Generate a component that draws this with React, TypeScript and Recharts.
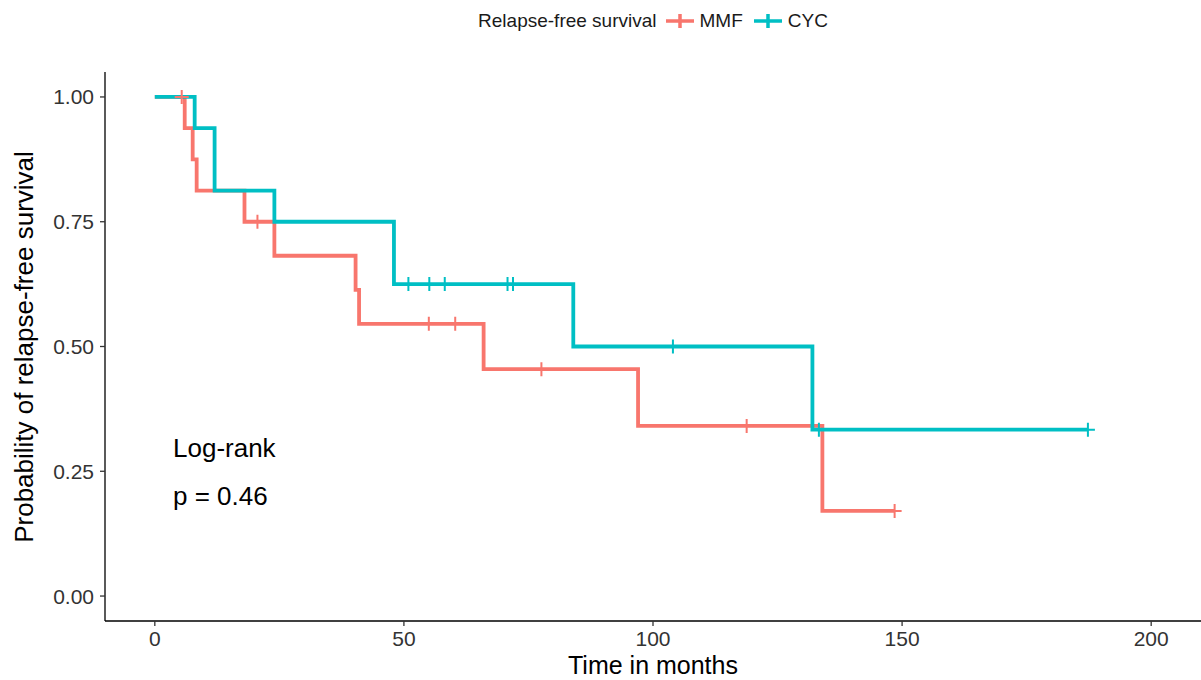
import React from 'react';
import { ComposedChart, Line, Scatter, XAxis, YAxis } from 'recharts';

// MMF Kaplan-Meier step curve
const mmfTimes = [0, 6, 7.6, 8.4, 18, 24, 40.3, 41, 66, 97, 134, 148.5];
const mmfSurv = [1, 0.9375, 0.875, 0.8125, 0.75, 0.6818, 0.6136, 0.5455, 0.4545, 0.3409, 0.1705, 0.1705];
const mmfCensorTimes = [5.4, 20.6, 55, 60.3, 77.6, 118.8, 148.5];
const mmfCensorSurv = [1, 0.75, 0.5455, 0.5455, 0.4545, 0.3409, 0.1705];

// CYC Kaplan-Meier step curve
const cycTimes = [0, 8, 12, 24, 48, 84, 132, 187.3];
const cycSurv = [1, 0.9375, 0.8125, 0.75, 0.625, 0.5, 0.3333, 0.3333];
const cycCensorTimes = [50.9, 55.1, 58.2, 70.8, 71.9, 104, 133.3, 187.3];
const cycCensorSurv = [0.625, 0.625, 0.625, 0.625, 0.625, 0.5, 0.3333, 0.3333];

const xTicks = [0, 50, 100, 150, 200];
const yTicks = [0, 0.25, 0.5, 0.75, 1];

const seriesNames = ['MMF', 'CYC'];
const legendTitle = 'Relapse-free survival';
const xTitle = 'Time in months';
const yTitle = 'Probability of relapse-free survival';
const annotation = ['Log-rank', 'p = 0.46'];

const MMF_COLOR = '#F8766D';
const CYC_COLOR = '#00BFC4';

const zip = (t: number[], s: number[]) => t.map((v, i) => ({ t: v, s: s[i] }));
const mmfData = zip(mmfTimes, mmfSurv);
const cycData = zip(cycTimes, cycSurv);
const mmfCensor = zip(mmfCensorTimes, mmfCensorSurv);
const cycCensor = zip(cycCensorTimes, cycCensorSurv);

const FONT = '"Liberation Sans", Arial, Helvetica, sans-serif';

const plus = (color: string) => (props: any) => {
  const { cx, cy } = props;
  if (cx == null || cy == null) return <g />;
  const h = 7;
  return (
    <path
      d={`M${cx - h},${cy}H${cx + h}M${cx},${cy - h}V${cy + h}`}
      stroke={color}
      strokeWidth={2}
      fill="none"
    />
  );
};

const LegendIcon = ({ color }: { color: string }) => (
  <svg width={30} height={20} style={{ display: 'block' }}>
    <path d="M1,10H29M15,3V17" stroke={color} strokeWidth={3.5} fill="none" />
  </svg>
);

export default function App() {
  return (
    <div style={{ position: 'absolute', left: 0, top: 0, width: 1201, height: 680, background: '#fff', fontFamily: FONT }}>
      <ComposedChart width={1201} height={680} margin={{ top: 72, right: 0, bottom: 19, left: 45 }}>
        <XAxis
          type="number"
          dataKey="t"
          domain={[-10, 210]}
          ticks={xTicks}
          allowDataOverflow
          height={40}
          tickSize={5}
          tickMargin={5}
          axisLine={{ stroke: '#000', strokeWidth: 1.3 }}
          tickLine={{ stroke: '#333', strokeWidth: 1.3 }}
          tick={{ fill: '#333', fontSize: 21, fontFamily: FONT }}
        />
        <YAxis
          type="number"
          dataKey="s"
          domain={[-0.05, 1.05]}
          ticks={yTicks}
          allowDataOverflow
          width={60}
          tickSize={5}
          tickMargin={6}
          tickFormatter={(v: number) => v.toFixed(2)}
          axisLine={{ stroke: '#000', strokeWidth: 1.3 }}
          tickLine={{ stroke: '#333', strokeWidth: 1.3 }}
          tick={{ fill: '#333', fontSize: 21, fontFamily: FONT }}
        />
        <Line
          data={mmfData}
          dataKey="s"
          type="stepAfter"
          stroke={MMF_COLOR}
          strokeWidth={3.8}
          dot={false}
          activeDot={false}
          isAnimationActive={false}
          name={seriesNames[0]}
        />
        <Line
          data={cycData}
          dataKey="s"
          type="stepAfter"
          stroke={CYC_COLOR}
          strokeWidth={3.8}
          dot={false}
          activeDot={false}
          isAnimationActive={false}
          name={seriesNames[1]}
        />
        <Scatter data={mmfCensor} dataKey="s" shape={plus(MMF_COLOR)} isAnimationActive={false} />
        <Scatter data={cycCensor} dataKey="s" shape={plus(CYC_COLOR)} isAnimationActive={false} />
      </ComposedChart>

      {/* legend */}
      <div
        style={{
          position: 'absolute',
          left: 105,
          top: 10,
          width: 1096,
          display: 'flex',
          justifyContent: 'center',
          alignItems: 'center',
          fontSize: 19,
          color: '#1a1a1a',
          fontFamily: FONT,
        }}
      >
        <span style={{ marginRight: 8 }}>{legendTitle}</span>
        <LegendIcon color={MMF_COLOR} />
        <span style={{ marginLeft: 5, marginRight: 10 }}>{seriesNames[0]}</span>
        <LegendIcon color={CYC_COLOR} />
        <span style={{ marginLeft: 5 }}>{seriesNames[1]}</span>
      </div>

      {/* titles and annotation */}
      <svg width={1201} height={680} style={{ position: 'absolute', left: 0, top: 0, pointerEvents: 'none' }}>
        <text x={653} y={674} textAnchor="middle" fontSize={25} fill="#000" fontFamily={FONT}>
          {xTitle}
        </text>
        <text
          x={0}
          y={0}
          transform="translate(33,347) rotate(-90)"
          textAnchor="middle"
          fontSize={26}
          fill="#000"
          fontFamily={FONT}
        >
          {yTitle}
        </text>
        <text x={173} y={457} fontSize={26} fill="#000" fontFamily={FONT}>
          {annotation[0]}
        </text>
        <text x={173} y={505} fontSize={26} fill="#000" fontFamily={FONT}>
          {annotation[1]}
        </text>
      </svg>
    </div>
  );
}
